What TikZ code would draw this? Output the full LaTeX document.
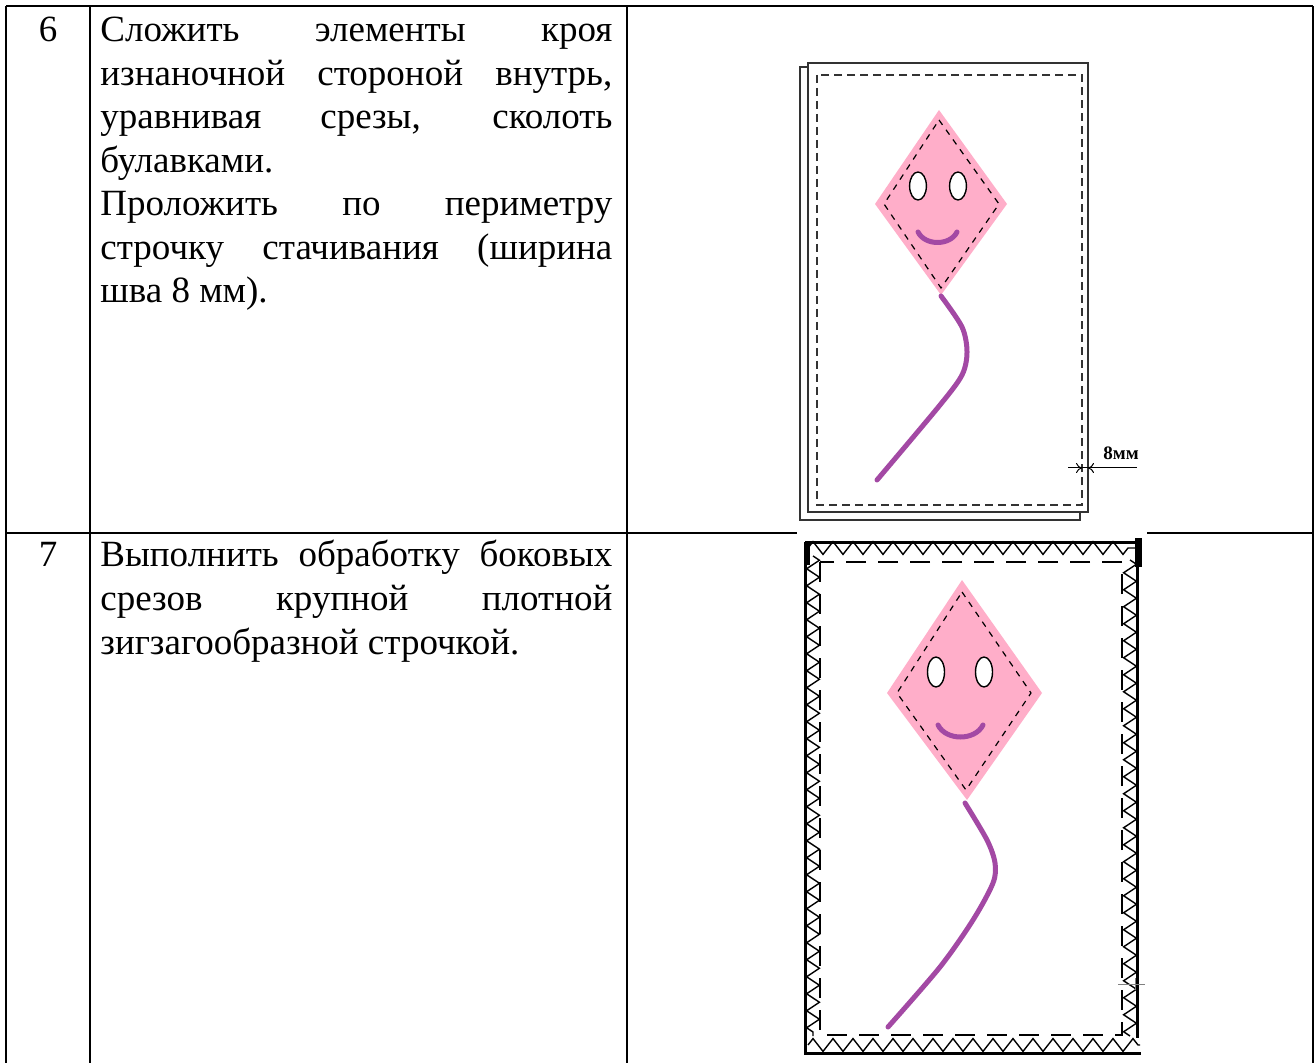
\documentclass[tikz,border=0pt]{standalone}
\usepackage{fontspec}
\setmainfont{Liberation Serif}
\usetikzlibrary{decorations.pathmorphing, arrows.meta}
\definecolor{kitepink}{RGB}{255,174,201}
\definecolor{kitepurple}{RGB}{163,73,164}
\newcommand{\jline}[1]{\makebox[256pt][s]{#1}}
\tikzset{
  x=0.5pt, y=-0.5pt,
  rule/.style={line width=1pt},
  txt/.style={anchor=base west, inner sep=0pt, font=\fontsize{18.5}{22}\selectfont},
  num/.style={anchor=base, inner sep=0pt, font=\fontsize{18.5}{22}\selectfont},
  kite/.style={fill=kitepink},
  stitch/.style={dash pattern=on 3pt off 3pt, line width=0.6pt},
  tail/.style={draw=kitepurple, line width=2.5pt, line cap=round},
  eye/.style={draw, fill=white, line width=0.7pt},
  sheet/.style={draw=black!80, line width=0.8pt},
  seam/.style={draw=black!80, dash pattern=on 4pt off 2.5pt, line width=0.75pt},
  zz/.style={decorate, decoration={zigzag, segment length=#1, amplitude=3.2pt}, line width=0.7pt},
  zz/.default=10pt,
  edge/.style={line width=1.5pt},
}

\begin{document}
\begin{tikzpicture}
      \fill[white] (0,0) rectangle (1316,1063);
      \useasboundingbox (0,0) rectangle (1316,1063);

      % table
      \draw[rule] (6,6) -- (1313,6);
      \draw[rule] (6,533) -- (1313,533);
      \draw[rule] (6,6) -- (6,1063);
      \draw[rule] (90,6) -- (90,1063);
      \draw[rule] (627,6) -- (627,1063);
      \draw[rule] (1313,6) -- (1313,1063);

      \node[num] (n6) at (48,42) {6};
      \node[txt] (s6a) at (100,42)    {\jline{Сложить элементы кроя}};
      \node[txt] (s6b) at (100,85.5)  {\jline{изнаночной стороной внутрь,}};
      \node[txt] (s6c) at (100,129)   {\jline{уравнивая срезы, сколоть}};
      \node[txt] (s6d) at (100,172.5) {булавками.};
      \node[txt] (s6e) at (100,216)   {\jline{Проложить по периметру}};
      \node[txt] (s6f) at (100,259.5) {\jline{строчку стачивания (ширина}};
      \node[txt] (s6g) at (100,303)   {шва 8 мм).};

      \node[num] (n7) at (48,567) {7};
      \node[txt] (s7a) at (100,567)   {\jline{Выполнить обработку боковых}};
      \node[txt] (s7b) at (100,610.5) {\jline{срезов крупной плотной}};
      \node[txt] (s7c) at (100,654)   {зигзагообразной строчкой.};

      % step 6: two layers with the seam line
      \draw[sheet] (800,67) rectangle (1080,520);
      \draw[sheet, fill=white] (808,63) rectangle (1088,512);
      \draw[seam] (817,75) rectangle (1082,505);

      \fill[kite] (939,110) -- (1007,204) -- (941,295) -- (875,204) -- cycle;
      \draw[stitch] (939,120) -- (999,204) -- (941,288) -- (884,204) -- cycle;
      \draw[eye] (918,186) ellipse [x radius=4.2pt, y radius=7pt];
      \draw[eye] (958,186) ellipse [x radius=4.2pt, y radius=7pt];
      \draw[tail] (918,232) .. controls (925,246) and (950,246) .. (957,232);
      \draw[tail] plot[smooth] coordinates {(941,296) (962,327) (967,352) (962,375) (940,405) (877,480)};

      \draw[line width=0.5pt] (1068,468) -- (1137,468);
      \draw[line width=0.5pt, -{To[length=3pt, width=5pt]}] (1070,468) -- (1082,468);
      \draw[line width=0.5pt, -{To[length=3pt, width=5pt]}] (1100,468) -- (1088,468);
      \node[anchor=base west, inner sep=0pt, font=\bfseries\fontsize{9.5}{11}\selectfont] (mm) at (1103,459) {8мм};

      % step 7: zigzag finish on the edges
      \fill[white] (797,530) rectangle (1147,1063);
      \draw[zz] (808,548) -- (1136,548);
      \draw[zz=8.5pt] (813,556) -- (813,1036);
      \draw[zz=8.5pt] (1130,560) -- (1130,1036);
      \draw[zz] (808,1045) -- (1140,1045);
      \draw[edge] (805,542) -- (1139,542);
      \draw[edge] (805,542) -- (805,1053) -- (1141,1053);
      \draw[edge] (1137,542) -- (1137,1038);
      \draw[line width=3pt] (807,544) -- (807,565);
      \draw[line width=3.5pt] (1138,538) -- (1138,567);
      \draw[dash pattern=on 10pt off 6pt, line width=0.7pt] (820,562) rectangle (1122,1035);
      \draw[gray, line width=0.5pt] (1118,984) -- (1145,984);
      \draw[gray, line width=0.5pt] (1135,978) -- (1135,990);

      \fill[kite] (962,580) -- (1042,693) -- (967,800) -- (887,693) -- cycle;
      \draw[stitch] (962,592) -- (1031,693) -- (966,790) -- (897,693) -- cycle;
      \draw[eye] (936,672) ellipse [x radius=4.25pt, y radius=7.5pt];
      \draw[eye] (984,672) ellipse [x radius=4.25pt, y radius=7.5pt];
      \draw[tail] (938,725) .. controls (946,741) and (975,741) .. (983,725);
      \draw[tail] plot[smooth] coordinates {(965,803) (987,840) (995,863) (993,883) (973,920) (940,967) (888,1027)};
\end{tikzpicture}
\end{document}
